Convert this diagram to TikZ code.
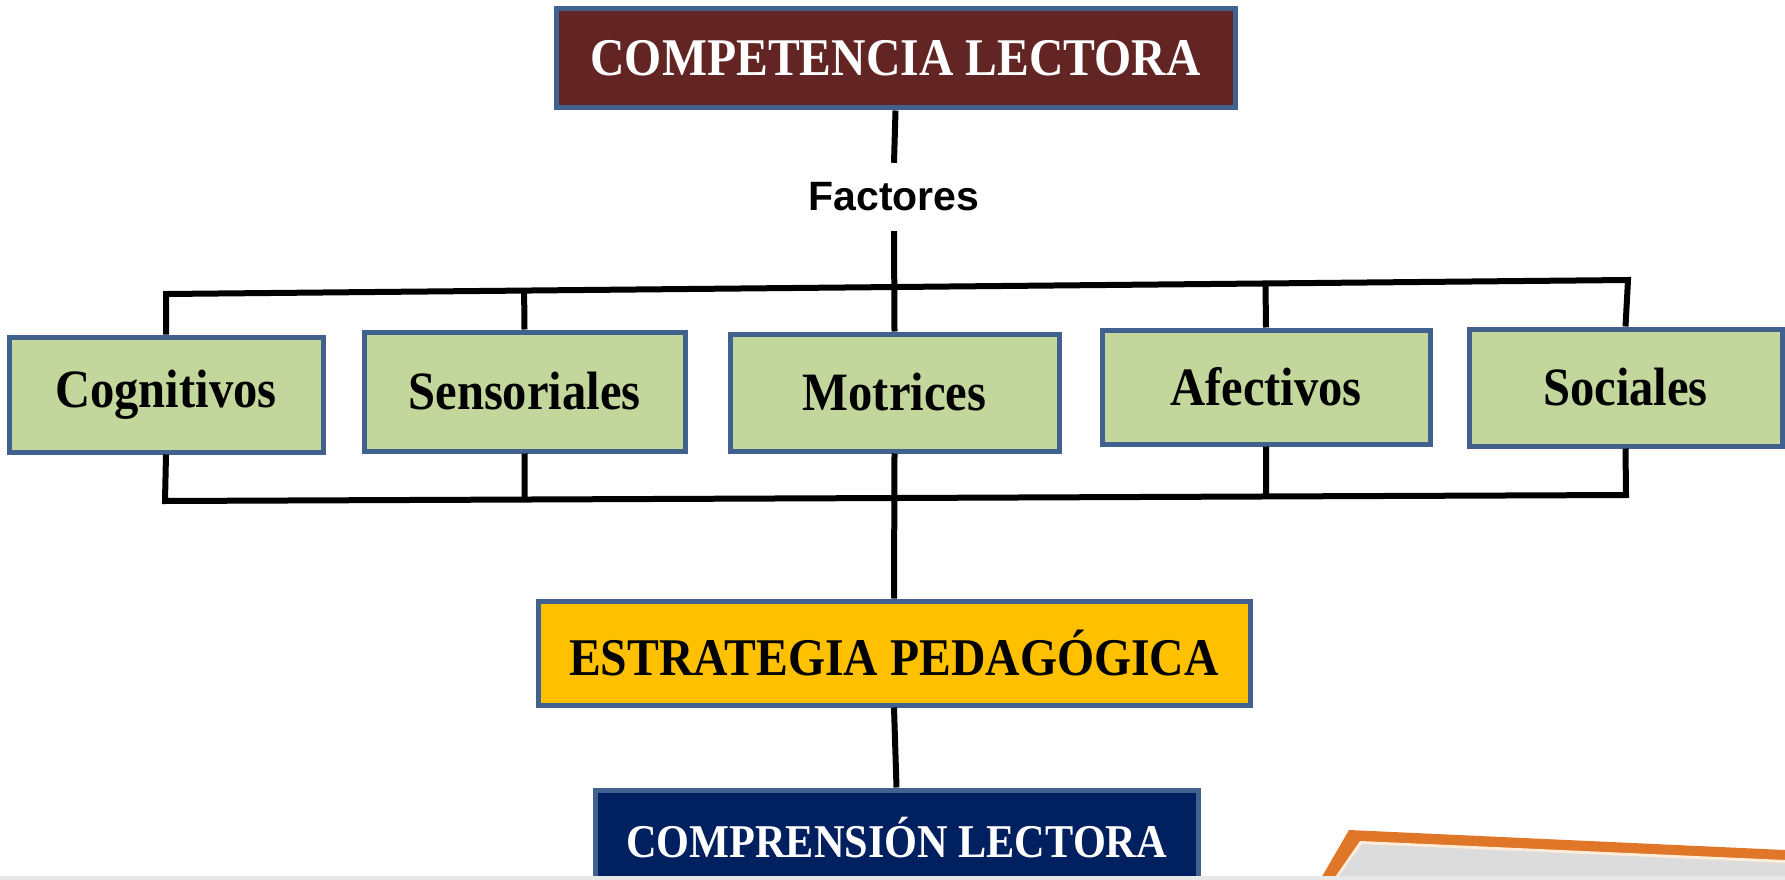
\documentclass[tikz,border=0pt]{standalone}
\usepackage{fontspec}
\setmainfont{Liberation Serif}
\setsansfont{Liberation Sans}
\newfontfamily\boxfont[FakeStretch=0.9]{Liberation Serif}
\usetikzlibrary{calc,positioning}
\definecolor{boxborder}{HTML}{41628F}
\definecolor{titlered}{HTML}{632523}
\definecolor{factorgreen}{HTML}{C3D69B}
\definecolor{stratgold}{HTML}{FFC000}
\definecolor{compnavy}{HTML}{002060}
\definecolor{tabgray}{HTML}{DCDCDC}
\definecolor{taborange}{HTML}{E07628}
\tikzset{
  box/.style={draw=boxborder, line width=5pt, rectangle, inner sep=0pt, align=center},
  titlebox/.style={box, fill=titlered, text=white, minimum width=679, minimum height=99,
    font=\boxfont\bfseries\fontsize{53}{60}\selectfont},
  factorbox/.style={box, fill=factorgreen, font=\boxfont\bfseries\fontsize{54}{60}\selectfont},
  stratbox/.style={box, fill=stratgold, minimum width=712, minimum height=104,
    font=\boxfont\bfseries\fontsize{53}{60}\selectfont},
  compbox/.style={box, fill=compnavy, text=white, minimum width=603, minimum height=96,
    font=\boxfont\bfseries\fontsize{47}{56}\selectfont},
  link/.style={draw=black, line width=6pt},
}
\begin{document}
\begin{tikzpicture}[x=1pt,y=-1pt]
\useasboundingbox (0,0) rectangle (1785,880);
\clip (0,0) rectangle (1785,880);
% tab in the lower right corner
\fill[taborange] (1349,830) -- (1785,850) -- (1785,880) -- (1320,880) -- cycle;
\fill[white!85!orange] (1360,841) -- (1785,860) -- (1785,880) -- (1333,880) -- cycle;
\fill[tabgray] (1362,844) -- (1785,863) -- (1785,880) -- (1336,880) -- cycle;
% boxes
\node[titlebox] (comp) at (895.5,58.5) {COMPETENCIA LECTORA};
\node[font=\sffamily\bfseries\fontsize{41}{48}\selectfont, minimum height=68, inner sep=0pt] (fact) at (894,197) {Factores};
\node[factorbox, minimum width=314, minimum height=115] (cog) at (166,394.5) {Cognitivos};
\node[factorbox, minimum width=321, minimum height=119] (sen) at (524.5,391.5) {Sensoriales};
\node[factorbox, minimum width=329, minimum height=117] (mot) at (894.5,392.5) {Motrices};
\node[factorbox, minimum width=328, minimum height=114] (afe) at (1266,387) {Afectivos};
\node[factorbox, minimum width=313, minimum height=117] (soc) at (1625.5,387.5) {Sociales};
\node[stratbox] (est) at (894,653) {ESTRATEGIA PEDAGÓGICA};
\node[compbox] (cmp) at (896.5,838) {COMPRENSIÓN LECTORA};
% buses
\coordinate (tl) at (166,294);
\coordinate (tr) at (1628,280);
\coordinate (bl) at (165,501);
\coordinate (br) at (1626,495);
\draw[link] (cog.north) -- (tl) -- (tr) -- (soc.north);
\draw[link] (sen.north) -- ($(tl)!(sen.north)!(tr)$);
\draw[link] (afe.north) -- ($(tl)!(afe.north)!(tr)$);
\draw[link] (cog.south) -- (bl) -- (br) -- (soc.south);
\draw[link] (sen.south) -- ($(bl)!(sen.south)!(br)$);
\draw[link] (afe.south) -- ($(bl)!(afe.south)!(br)$);
% trunk
\draw[link] (comp.south) -- (fact.north);
\draw[link] (fact.south) -- (mot.north);
\draw[link] (mot.south) -- (est.north);
\draw[link] (est.south) -- (cmp.north);
% strip along the bottom
\fill[gray!18] (0,876) rectangle (1785,880);
\end{tikzpicture}
\end{document}
